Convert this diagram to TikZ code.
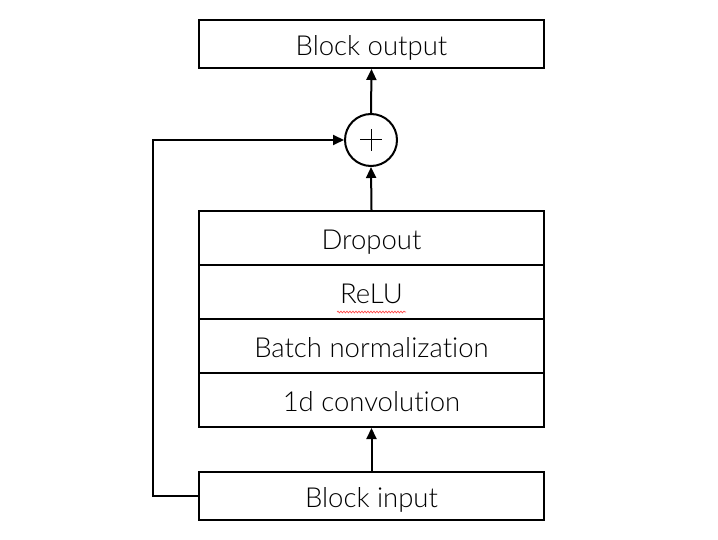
\documentclass[tikz,border=0pt]{standalone}
\usepackage{fontspec}
\setmainfont{Lato Light}[Ligatures={NoCommon}]
\usetikzlibrary{arrows.meta,decorations.pathmorphing}
\begin{document}
\begin{tikzpicture}[x=1pt,y=-1pt,
  box/.style={draw,line width=2pt,minimum width=345pt,minimum height=54pt,inner sep=0pt,text depth=0pt,font=\fontsize{27.5}{30}\selectfont},
  arr/.style={line width=2pt,-{Triangle[length=11pt,width=10pt]}},
  ln/.style={line width=2pt}]
\useasboundingbox (0,0) rectangle (718,540);
\node[box,minimum height=48pt] (out) at (371.5,44) {\raisebox{-3pt}{Block output}};
\node[draw,circle,line width=2pt,minimum size=52pt,inner sep=0pt] (sum) at (371,140) {};
\draw[line width=1pt] ([xshift=-11pt]sum.center) -- ([xshift=11pt]sum.center)
  ([yshift=-11pt]sum.center) -- ([yshift=11pt]sum.center);
\node[box] (drop) at (371.5,238) {\raisebox{-3pt}{Dropout}};
\node[box] (relu) at (371.5,292) {\raisebox{-3pt}{ReLU}};
\node[box] (bn) at (371.5,346) {\raisebox{-3pt}{Batch normalization}};
\node[box] (conv) at (371.5,400) {\raisebox{-3pt}{1d convolution}};
\node[box,minimum height=48pt] (in) at (371.5,496) {\raisebox{-3pt}{Block input}};
\coordinate (sq0) at (337,312);
\coordinate (sq1) at (406,312);
\draw[red!70,line width=0.7pt,decorate,decoration={snake,amplitude=0.9pt,segment length=3pt}] (sq0) -- (sq1);
\draw[arr] (in.north) -- (conv.south);
\draw[arr] (drop.north) -- (sum.south);
\draw[arr] (sum.north) -- (out.south);
\coordinate (k) at (153,496);
\draw[arr] (in.west) -- (k) |- (sum.west);
\end{tikzpicture}
\end{document}
